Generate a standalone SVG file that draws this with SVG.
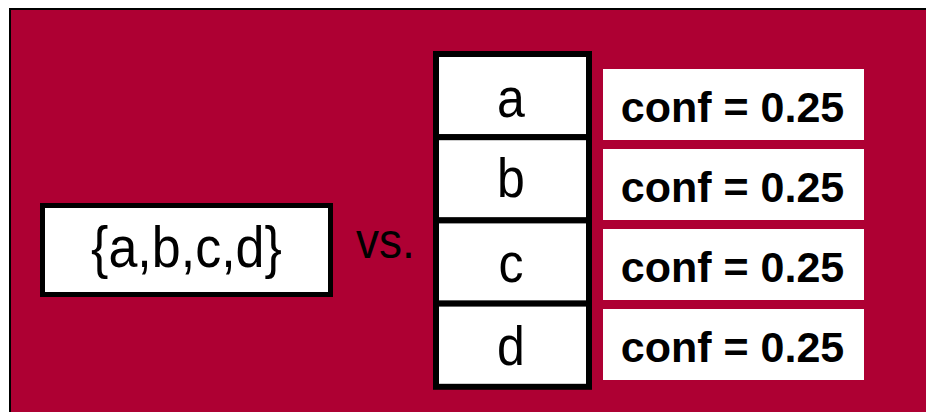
<svg xmlns="http://www.w3.org/2000/svg" width="926" height="412" viewBox="0 0 926 412">
<style>
.reg{font-family:"Liberation Sans",Arial,sans-serif;fill:#000}
.bold{font-family:"Liberation Sans",Arial,sans-serif;font-weight:bold;font-size:43px;fill:#000;text-anchor:middle}
.cell{fill:#fff;stroke:#000;stroke-width:6}
.conf{fill:#fff}
</style>
<rect x="0" y="0" width="926" height="412" fill="#fff"/>
<rect id="background" x="10" y="9" width="930" height="420" fill="#AE0033" stroke="#000" stroke-width="2"/>
<g id="set-node">
<rect x="42.5" y="205.5" width="288" height="89" fill="#fff" stroke="#000" stroke-width="5"/>
<text class="reg" transform="translate(186.5,267) scale(1,1.1)" font-size="52" text-anchor="middle">{a,b,c,d}</text>
</g>
<g id="vs-label">
<text class="reg" transform="translate(356,258) scale(1,1.08)" font-size="46">vs.</text>
</g>
<g id="cell-a">
<rect class="cell" x="436" y="54" width="153" height="83.2"/>
<text class="reg" transform="translate(511,116.5) scale(1,1.1)" font-size="50" text-anchor="middle">a</text>
</g>
<g id="cell-b">
<rect class="cell" x="436" y="137.2" width="153" height="83.2"/>
<text class="reg" transform="translate(511,197) scale(1,1.1)" font-size="50" text-anchor="middle">b</text>
</g>
<g id="cell-c">
<rect class="cell" x="436" y="220.4" width="153" height="83.2"/>
<text class="reg" transform="translate(511,282) scale(1,1.1)" font-size="50" text-anchor="middle">c</text>
</g>
<g id="cell-d">
<rect class="cell" x="436" y="303.6" width="153" height="83.2"/>
<text class="reg" transform="translate(511,365) scale(1,1.1)" font-size="50" text-anchor="middle">d</text>
</g>
<g id="conf-a">
<rect class="conf" x="603" y="69" width="261" height="71"/>
<text class="bold" x="732.5" y="122">conf = 0.25</text>
</g>
<g id="conf-b">
<rect class="conf" x="603" y="149" width="261" height="71"/>
<text class="bold" x="732.5" y="202">conf = 0.25</text>
</g>
<g id="conf-c">
<rect class="conf" x="603" y="229" width="261" height="71"/>
<text class="bold" x="732.5" y="282">conf = 0.25</text>
</g>
<g id="conf-d">
<rect class="conf" x="603" y="309" width="261" height="71"/>
<text class="bold" x="732.5" y="362">conf = 0.25</text>
</g>
<g id="connectors"></g>
</svg>
